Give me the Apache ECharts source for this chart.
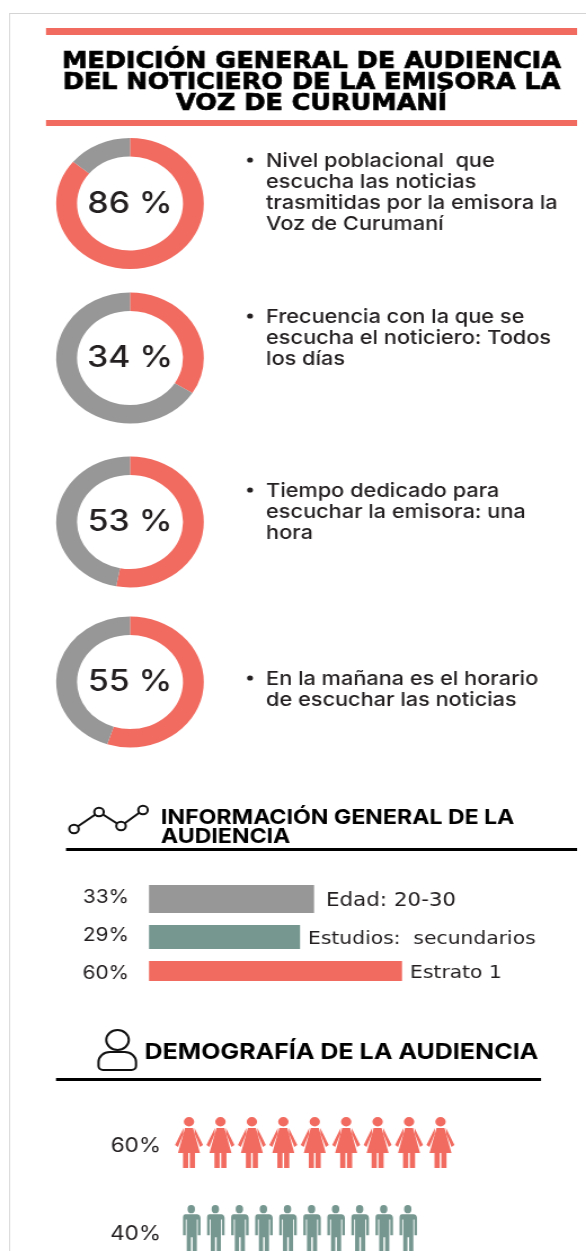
<!DOCTYPE html>
<html>
<head>
<meta charset="utf-8">
<title>Medición general de audiencia</title>
<script src="https://cdn.jsdelivr.net/npm/echarts@6/dist/echarts.min.js"></script>
<style>
html, body { margin: 0; padding: 0; background: #fff; overflow: hidden; }
/* the reference is stretched sideways, so the whole chart is too */
#chart { width: 520px; height: 1251px; transform: scaleX(1.127); transform-origin: 0 0; }
</style>
</head>
<body>
<div id="chart"></div>
<script>
const titleLines = ['MEDICIÓN GENERAL DE AUDIENCIA', 'DEL NOTICIERO DE LA EMISORA LA', 'VOZ DE CURUMANÍ']

const donutValues = [86, 34, 53, 55]
const donutTexts = [
  'Nivel poblacional  que\nescucha las noticias\ntrasmitidas por la emisora la\nVoz de Curumaní',
  'Frecuencia con la que se\nescucha el noticiero: Todos\nlos días',
  'Tiempo dedicado para\nescuchar la emisora: una\nhora',
  'En la mañana es el horario\nde escuchar las noticias'
]

const barLabels = ['33%', '29%', '60%']
const barNames = ['Edad: 20-30', 'Estudios:  secundarios', 'Estrato 1']
// drawn lengths, the reference bars are not to scale with their labels
const barLengths = [33, 30.2, 50.6]

const peopleLabels = ['60%', '40%']
const peopleCounts = [9, 10]

const RED = '#f26b60'
const GREY = '#979797'
const GREEN = '#75978f'
const INK = '#231f20'
const FONT = 'Inter, "Noto Sans", sans-serif'
const WIDE = '"DejaVu Sans", sans-serif'

const S = 586 / 520
const X = x => x / S

const womanPath = 'path://M14 0a5.2 4.7 0 1 0 .01 0z' +
  'M10 11h8L25 36H20v15H14.800V36H13.200v15H8V36H3z' +
  'M8.500 11L0 28l3 2 5.200-13zM19.500 11L28 28l-3 2-5.200-13z'
const manPath = 'path://M9 0a3.600 4 0 1 0 .01 0zM3.500 9h11c2 0 3.500 1.500 3.500 3.500V29h-2.600V14h-1v36h-4.100V31H8.700v19H4.600V14h-1v15H1V12.500C1 10.500 1.500 9 3.500 9z'

const donutCentersY = [203.5, 358, 522, 682]
const donutTextY = [151, 307, 481, 669]

const series = []
const grid = []
const xAxis = []
const yAxis = []

donutValues.forEach((v, i) => {
  series.push({
    type: 'pie',
    silent: true,
    center: [X(130), donutCentersY[i]],
    radius: [47, 65.5],
    startAngle: 90,
    label: { show: false },
    labelLine: { show: false },
    data: [
      {
        value: v,
        itemStyle: { color: RED },
        label: { show: true, position: 'center', formatter: '{c} %', fontFamily: FONT, fontSize: 30, fontWeight: 500, color: INK }
      },
      { value: 100 - v, itemStyle: { color: GREY } }
    ]
  })
})

// horizontal bars, one grid each as their rows are unevenly spaced
const barTop = [885, 925, 961]
const barHeight = [28, 24, 20]
const barColors = [GREY, GREEN, RED]
const nameGap = [12, 8, 8]
const nameSize = [19, 18, 18]
const barLabelPad = [[0, 0, 4, 0], [0, 0, 4, 0], [4, 0, 0, 0]]
barLabels.forEach((lab, i) => {
  grid.push({ left: X(149), top: barTop[i], width: X(253) * 60 / 50.6, height: barHeight[i] })
  xAxis.push({ type: 'value', gridIndex: i, min: 0, max: 60, show: false })
  yAxis.push({
    type: 'category',
    gridIndex: i,
    data: [lab],
    axisLine: { show: false },
    axisTick: { show: false },
    axisLabel: {
      margin: X(20),
      formatter: '{a|{value}}',
      rich: { a: { fontFamily: FONT, fontSize: 18.5, color: INK, padding: barLabelPad[i] } }
    }
  })
  series.push({
    type: 'bar',
    silent: true,
    xAxisIndex: i,
    yAxisIndex: i,
    barWidth: barHeight[i],
    data: [barLengths[i]],
    itemStyle: { color: barColors[i] },
    label: {
      show: true,
      position: 'right',
      distance: X(nameGap[i]),
      formatter: barNames[i],
      fontFamily: WIDE,
      fontSize: nameSize[i],
      color: INK,
      offset: [0, 2]
    }
  })
})

// pictogram rows
const peopleTop = [1117, 1211]
const peopleHeight = [51, 52]
const peopleWidth = [X(28), X(17.5)]
const peoplePitch = [X(31.05), X(23.4)]
const peopleLeft = [X(175), X(183)]
const peoplePaths = [womanPath, manPath]
const peopleColors = [RED, GREEN]
const peopleLabelPad = [[6, 0, 0, 0], [6, 0, 0, 0]]
peopleLabels.forEach((lab, i) => {
  const g = barLabels.length + i
  grid.push({ left: peopleLeft[i], top: peopleTop[i], width: peoplePitch[i] * peopleCounts[i], height: peopleHeight[i] })
  xAxis.push({ type: 'value', gridIndex: g, min: 0, max: peopleCounts[i], show: false })
  yAxis.push({
    type: 'category',
    gridIndex: g,
    data: [lab],
    axisLine: { show: false },
    axisTick: { show: false },
    axisLabel: {
      margin: peopleLeft[i] - X(161),
      formatter: '{a|{value}}',
      rich: { a: { fontFamily: FONT, fontSize: 20, color: INK, padding: peopleLabelPad[i] } }
    }
  })
  series.push({
    type: 'pictorialBar',
    silent: true,
    xAxisIndex: g,
    yAxisIndex: g,
    data: [peopleCounts[i]],
    symbol: peoplePaths[i],
    symbolSize: [peopleWidth[i], peopleHeight[i]],
    symbolRepeat: peopleCounts[i],
    symbolMargin: peoplePitch[i] - peopleWidth[i],
    symbolPosition: 'start',
    symbolClip: false,
    itemStyle: { color: peopleColors[i] }
  })
})

const rect = (x1, x2, y, h, fill) => ({
  type: 'rect', silent: true, shape: { x: X(x1), y: y, width: X(x2 - x1), height: h }, style: { fill: fill }
})
const text = (x, y, str, opts) => ({
  type: 'text',
  silent: true,
  x: X(x),
  y: y,
  style: Object.assign({
    text: str,
    fontFamily: FONT,
    fontWeight: 700,
    fill: '#000',
    align: 'left',
    verticalAlign: 'top'
  }, opts)
})

const graphic = [
  // frame of the scanned page
  rect(9, 586, 13, 1, '#d4d4d4'),
  rect(9, 10, 13, 1238, '#d4d4d4'),
  rect(46, 577, 28, 7, RED),
  rect(46, 577, 120, 6, RED),
  rect(66, 577, 848, 3, '#000'),
  rect(56, 541, 1078, 3, '#000'),
  text(311.5, 51.5, titleLines.join('\n'), { fontFamily: WIDE, fontSize: 22.6, align: 'center', lineHeight: 21, stroke: '#000', lineWidth: 0.7 }),
  text(161, 808, 'INFORMACIÓN GENERAL DE LA\nAUDIENCIA', { fontSize: 20.5, lineHeight: 19 }),
  text(144.5, 1041, 'DEMOGRAFÍA DE LA AUDIENCIA', { fontSize: 22.2 })
]

donutTexts.forEach((t, i) => {
  graphic.push(text(266, donutTextY[i], t, { fontSize: 19.3, fontWeight: 500, fill: INK, lineHeight: 21 }))
  graphic.push({
    type: 'circle',
    silent: true,
    shape: { cx: X(250), cy: donutTextY[i] + 9, r: 2.6 },
    style: { fill: INK }
  })
})

// line chart icon
const iconPts = [[74, 829], [99, 812], [121, 826], [143, 810]]
graphic.push({
  type: 'polyline',
  silent: true,
  shape: { points: iconPts.map(p => [X(p[0]), p[1]]) },
  style: { stroke: '#111', lineWidth: 2, fill: 'none' }
})
iconPts.forEach(p => {
  graphic.push({
    type: 'circle',
    silent: true,
    shape: { cx: X(p[0]), cy: p[1], r: 4.2 },
    style: { fill: '#fff', stroke: '#111', lineWidth: 2 }
  })
})

// person icon
graphic.push({
  type: 'rect',
  silent: true,
  shape: { x: X(98.5), y: 1052, width: X(37.5), height: 18, r: [10, 10, 4, 4] },
  style: { fill: '#fff', stroke: '#111', lineWidth: 2 }
})
graphic.push({
  type: 'circle',
  silent: true,
  shape: { cx: X(117.5), cy: 1040, r: 10 },
  style: { fill: '#fff', stroke: '#111', lineWidth: 2 }
})

const chart = echarts.init(document.getElementById('chart'))
chart.setOption({
  backgroundColor: '#fff',
  animation: false,
  grid,
  xAxis,
  yAxis,
  series,
  graphic
})
</script>
</body>
</html>
